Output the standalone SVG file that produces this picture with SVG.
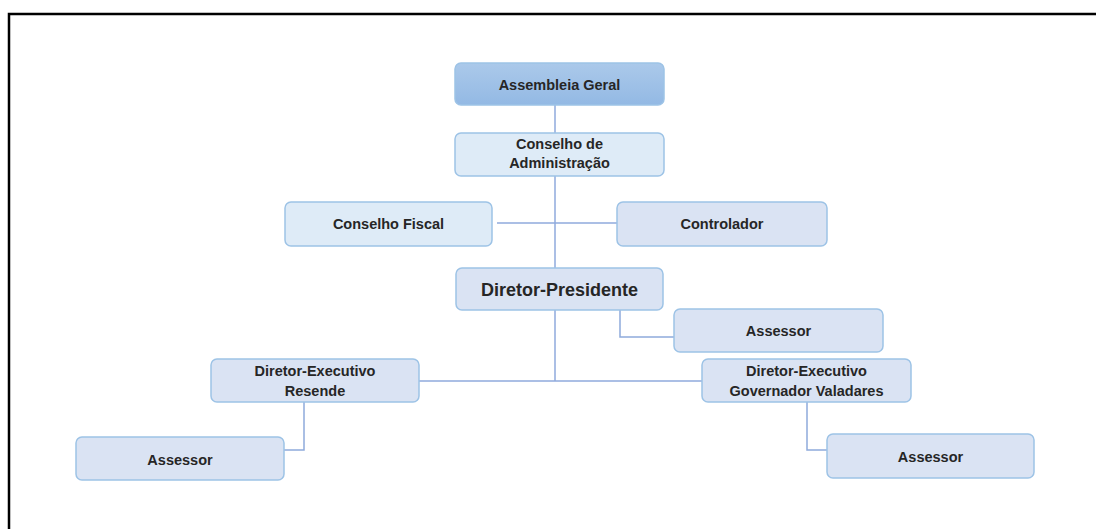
<svg xmlns="http://www.w3.org/2000/svg" width="1096" height="529" viewBox="0 0 1096 529">
<style>
.box{stroke:#9dc3e6;stroke-width:1.5}
.light{fill:#deebf7}
.lav{fill:#dae3f3}
.t{font-family:"Liberation Sans",Arial,sans-serif;font-weight:bold;font-size:14.5px;fill:#262626;text-anchor:middle}
.big{font-size:18px}
.c{fill:none;stroke:#8faadc;stroke-width:1.5}
</style>
<defs>
<linearGradient id="g" x1="0" y1="0" x2="0" y2="1">
<stop offset="0" stop-color="#abc9ea"/>
<stop offset="1" stop-color="#93b9e4"/>
</linearGradient>
</defs>
<rect x="0" y="0" width="1096" height="529" fill="#ffffff"/>
<path d="M9 529 V14 H1096" fill="none" stroke="#000" stroke-width="2.5"/>
<g id="connectors">
<path class="c" d="M555 105 V381"/>
<path class="c" d="M497 223 H617"/>
<path class="c" d="M620 310 V337 H674"/>
<path class="c" d="M419 381 H702"/>
<path class="c" d="M304 402 V450 H284"/>
<path class="c" d="M807 402 V450 H827"/>
</g>
<g id="assembleia">
<rect class="box" x="455" y="63" width="209" height="42" rx="6" fill="url(#g)"/>
<text class="t" x="559.5" y="90">Assembleia Geral</text>
</g>
<g id="conselho-adm">
<rect class="box light" x="455" y="133" width="209" height="43" rx="6"/>
<text class="t" x="559.5" y="149">Conselho de</text>
<text class="t" x="559.5" y="168">Administração</text>
</g>
<g id="conselho-fiscal">
<rect class="box light" x="285" y="202" width="207" height="44" rx="6"/>
<text class="t" x="388.5" y="229">Conselho Fiscal</text>
</g>
<g id="controlador">
<rect class="box lav" x="617" y="202" width="210" height="44" rx="6"/>
<text class="t" x="722" y="229">Controlador</text>
</g>
<g id="diretor-presidente">
<rect class="box lav" x="456" y="268" width="207" height="42" rx="6"/>
<text class="t big" x="559.5" y="296">Diretor-Presidente</text>
</g>
<g id="assessor-dp">
<rect class="box lav" x="674" y="309" width="209" height="43" rx="6"/>
<text class="t" x="778.5" y="336">Assessor</text>
</g>
<g id="de-resende">
<rect class="box lav" x="211" y="359" width="208" height="43" rx="6"/>
<text class="t" x="315" y="376">Diretor-Executivo</text>
<text class="t" x="315" y="396">Resende</text>
</g>
<g id="assessor-resende">
<rect class="box lav" x="76" y="437" width="208" height="43" rx="6"/>
<text class="t" x="180" y="465">Assessor</text>
</g>
<g id="de-gv">
<rect class="box lav" x="702" y="359" width="209" height="43" rx="6"/>
<text class="t" x="806.5" y="376">Diretor-Executivo</text>
<text class="t" x="806.5" y="396">Governador Valadares</text>
</g>
<g id="assessor-gv">
<rect class="box lav" x="827" y="434" width="207" height="44" rx="6"/>
<text class="t" x="930.5" y="462">Assessor</text>
</g>
</svg>
